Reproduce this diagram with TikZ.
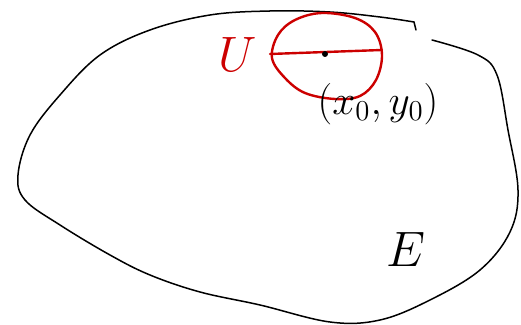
\documentclass[tikz,border=0pt]{standalone}
\usepackage{amsmath}
\usepackage{tikz}
\usepackage{xcolor}
\definecolor{penred}{RGB}{204,0,0}

\begin{document}
\begin{tikzpicture}[x=0.5pt,y=-0.5pt,
    blob/.style={line width=0.75pt,line cap=round,line join=round},
    disc/.style={penred,line width=1.2pt,line cap=round,line join=round},
    every node/.style={inner sep=0pt}]
    \useasboundingbox (0,0) rectangle (521,325);
    % -------------------------
    % The set E
    % -------------------------
    \draw[blob] plot[smooth,tension=0.6] coordinates {(414,22) (380,17) (330,12) (270,11) (210,15) (150,30) (100,55) (60,95) (30,135) (18,175) (25,200) (60,225) (110,255) (150,275) (200,292) (260,305) (330,322) (380,320) (430,300) (480,270) (510,232) (518,190) (508,130) (497,75) (478,55) (432,40)};
    \draw[blob] (414,22) -- (416,30);
    \node (E) at (406,250) {\fontsize{32}{34}\selectfont $E$};

    % -------------------------
    % The disc U round (x_0,y_0)
    % -------------------------
    \draw[disc] plot[smooth cycle,tension=0.6] coordinates {(322,13) (355,18) (375,32) (382,55) (376,80) (360,96) (335,99) (305,93) (285,78) (272,58) (278,35) (295,20)};
    \coordinate (dl) at (270,54);
    \coordinate (dr) at (382,50);
    \draw[disc] (dl) -- (dr);
    \fill (325,54) circle (3);
    \node[penred] (U) at (238,55) {\fontsize{30}{32}\selectfont $U$};
    \node (pt) at (378,104) {\fontsize{20}{22}\selectfont $(x_0,y_0)$};
\end{tikzpicture}
\end{document}
